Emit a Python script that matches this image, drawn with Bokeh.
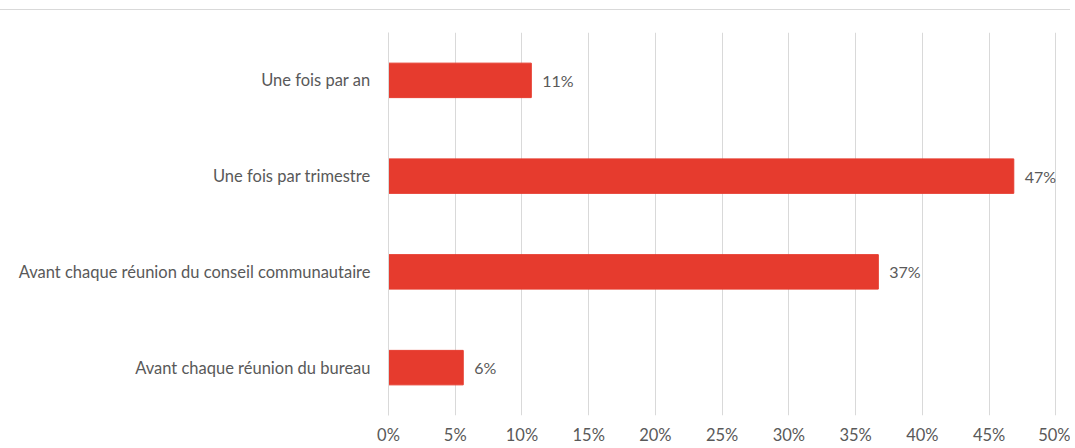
from bokeh.plotting import figure
from bokeh.models import ColumnDataSource, LabelSet, Div, FixedTicker, Range1d
from bokeh.core.properties import value
from bokeh.layouts import column
from bokeh.embed import file_html
from bokeh.resources import INLINE

categories = ["Une fois par an", "Une fois par trimestre",
              "Avant chaque réunion du conseil communautaire",
              "Avant chaque réunion du bureau"]
values = [10.7, 46.85, 36.7, 5.6]
labels = ["11%", "47%", "37%", "6%"]
ticks = [0, 5, 10, 15, 20, 25, 30, 35, 40, 45, 50]

FONT = "Lato"
FS = "16.5px"
TXT = "#595959"
GRID = "#d9d9d9"

src = ColumnDataSource(dict(cat=categories, val=values, lab=labels))

p = figure(y_range=list(reversed(categories)), x_range=Range1d(0, 50.5),
           width=1070, height=437, output_backend="svg", toolbar_location=None,
           min_border_left=388, min_border_right=8, min_border_top=22, min_border_bottom=0)
p.hbar(y="cat", right="val", left=0, height=0.36, source=src, color="#E63B2E")
p.add_layout(LabelSet(x="val", y="cat", text="lab", source=src, x_offset=11,
                      text_baseline="middle", text_font=value(FONT), text_font_size="16px",
                      text_color=TXT))

p.xaxis.ticker = FixedTicker(ticks=ticks)
p.xaxis.major_label_overrides = {t: f"{t}%" for t in ticks}
p.xaxis.axis_line_color = None
p.xaxis.major_tick_line_color = None
p.xaxis.minor_tick_line_color = None
p.xaxis.major_tick_out = 0
p.xaxis.major_tick_in = 0
p.xaxis.major_label_standoff = 9
p.yaxis.axis_line_color = GRID
p.yaxis.major_tick_line_color = None
p.yaxis.minor_tick_line_color = None
p.yaxis.major_label_standoff = 12
for ax in (p.xaxis, p.yaxis):
    ax.major_label_text_font = FONT
    ax.major_label_text_font_size = FS
    ax.major_label_text_color = TXT
p.ygrid.grid_line_color = None
p.xgrid.grid_line_color = GRID
p.outline_line_color = None

top = Div(text="", width=1070, height=10,
          styles={"border-bottom": f"1px solid {GRID}", "margin": "0"})
layout = column(top, p, spacing=0)

open("out.html", "w").write(file_html(layout, INLINE))
